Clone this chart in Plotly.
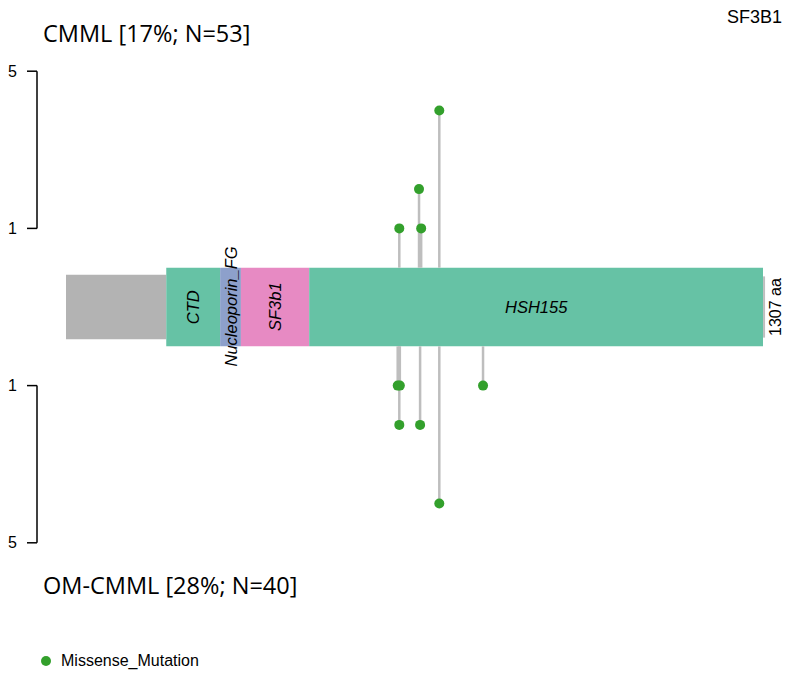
import plotly.graph_objects as go

# SF3B1 protein (1307 aa) with Pfam domains
protein_length = 1307
domain_names = ["CTD", "Nucleoporin_FG", "SF3b1", "HSH155"]
domain_start = [188, 289, 328, 456]
domain_end = [289, 328, 456, 1307]
domain_colors = ["#66C2A5", "#8DA0CB", "#E78AC3", "#66C2A5"]

# Mutations per cohort: amino-acid position and count
cmml_pos = [625, 662, 666, 700]
cmml_count = [1, 2, 1, 4]
omcmml_pos = [622, 625, 626, 664, 700, 782]
omcmml_count = [1, 2, 1, 2, 4, 1]

count_ticks = [5, 1]
top_label = "CMML [17%; N=53]"
bottom_label = "OM-CMML [28%; N=40]"
gene = "SF3B1"
mut_class = "Missense_Mutation"

STEM = "#BEBEBE"
DOT = "#33A02C"
HALF = 1.0          # half height of the domain bar (in count units)
GRAY_HALF = 0.82    # half height of the backbone rectangle

W, H = 787, 676
px_per_aa = 697 / protein_length
x0 = -66 / px_per_aa
x1 = x0 + W / px_per_aa
unit = 39.3
y_center_px = 307
y_top = y_center_px / unit
y_bot = -(H - y_center_px) / unit


def xpx(p):
    return x0 + p / px_per_aa


def ypx(p):
    return (y_center_px - p) / unit


fig = go.Figure()
shapes = []
annotations = []
label_font = dict(family="Liberation Sans", size=16.5, color="black")

# protein backbone
shapes.append(dict(type="rect", x0=0, x1=domain_start[0], y0=-GRAY_HALF, y1=GRAY_HALF,
                   fillcolor="#B3B3B3", line_width=0, layer="below"))
# domains
for name, s, e, c in zip(domain_names, domain_start, domain_end, domain_colors):
    shapes.append(dict(type="rect", x0=s, x1=e, y0=-HALF, y1=HALF,
                       fillcolor=c, line_width=0, layer="below"))
    annotations.append(dict(x=(s + e) / 2, y=0, text=f"<i>{name}</i>", showarrow=False,
                            textangle=0 if e - s > 300 else -90, font=label_font))

# protein length marker
shapes.append(dict(type="line", x0=protein_length + 2, x1=protein_length + 2,
                   y0=-GRAY_HALF * 0.95, y1=GRAY_HALF * 0.95,
                   line=dict(color="#BEBEBE", width=2)))
annotations.append(dict(x=xpx(775), y=0, text=f"{protein_length} aa", showarrow=False,
                        textangle=-90,
                        font=dict(family="Liberation Sans", size=16, color="black")))

# lollipop stems
for pos, cnt in zip(cmml_pos, cmml_count):
    shapes.append(dict(type="line", x0=pos, x1=pos, y0=HALF, y1=HALF + cnt,
                       line=dict(color=STEM, width=2.5), layer="below"))
for pos, cnt in zip(omcmml_pos, omcmml_count):
    shapes.append(dict(type="line", x0=pos, x1=pos, y0=-HALF, y1=-HALF - cnt,
                       line=dict(color=STEM, width=2.5), layer="below"))

fig.add_trace(go.Scatter(x=cmml_pos, y=[HALF + c for c in cmml_count], mode="markers",
                         marker=dict(color=DOT, size=10), showlegend=False, hoverinfo="skip"))
fig.add_trace(go.Scatter(x=omcmml_pos, y=[-HALF - c for c in omcmml_count], mode="markers",
                         marker=dict(color=DOT, size=10), showlegend=False, hoverinfo="skip"))

# count axes (bracket style)
ax_x = xpx(37)
tk_x = xpx(27)
for sign in (1, -1):
    lo, hi = min(count_ticks), max(count_ticks)
    shapes.append(dict(type="line", x0=ax_x, x1=ax_x, y0=sign * (HALF + lo), y1=sign * (HALF + hi),
                       line=dict(color="black", width=1.5)))
    for t in count_ticks:
        yv = sign * (HALF + t)
        shapes.append(dict(type="line", x0=tk_x, x1=ax_x, y0=yv, y1=yv,
                           line=dict(color="black", width=1.5)))
        annotations.append(dict(x=xpx(19), y=yv, text=str(t), showarrow=False, xanchor="right",
                                font=dict(family="Liberation Sans", size=16, color="black")))

# cohort labels
annotations.append(dict(x=xpx(41), y=ypx(33), text=top_label, showarrow=False,
                        xanchor="left", font=dict(family="Open Sans", size=23.5, color="black")))
annotations.append(dict(x=xpx(41), y=ypx(585), text=bottom_label, showarrow=False,
                        xanchor="left", font=dict(family="Open Sans", size=23.5, color="black")))
# gene name
annotations.append(dict(x=xpx(784), y=ypx(17), text=gene, showarrow=False,
                        xanchor="right", font=dict(family="Liberation Sans", size=18, color="black")))

# legend
fig.add_trace(go.Scatter(x=[xpx(46)], y=[ypx(661)], mode="markers",
                         marker=dict(color=DOT, size=10), showlegend=False, hoverinfo="skip"))
annotations.append(dict(x=xpx(59), y=ypx(661), text=mut_class, showarrow=False,
                        xanchor="left", font=dict(family="Liberation Sans", size=16, color="black")))

fig.update_layout(
    width=W, height=H, margin=dict(l=0, r=0, t=0, b=0),
    plot_bgcolor="white", paper_bgcolor="white",
    xaxis=dict(range=[x0, x1], visible=False, fixedrange=True),
    yaxis=dict(range=[y_bot, y_top], visible=False, fixedrange=True),
    shapes=shapes, annotations=annotations,
)

fig.write_html("out.html")
